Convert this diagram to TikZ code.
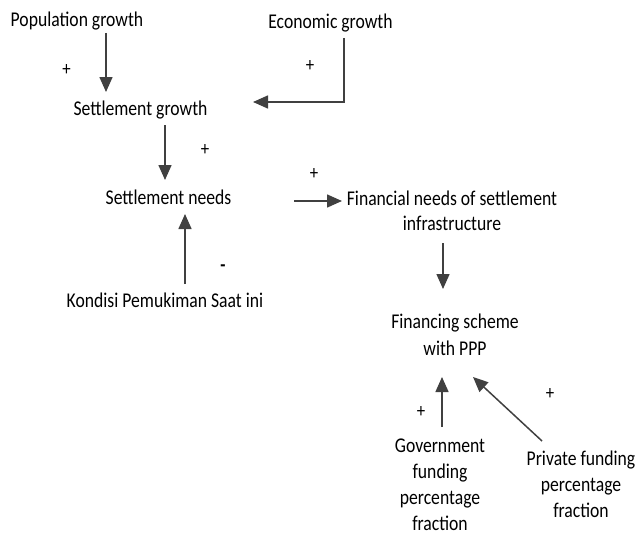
\documentclass[tikz,border=0pt]{standalone}
\usepackage{fontspec}
\setmainfont{Carlito}[FakeStretch=0.84]
\usetikzlibrary{arrows.meta,calc}
\definecolor{arrgray}{RGB}{64,64,64}
\begin{document}
\begin{tikzpicture}[x=1pt,y=-1pt,
  lbl/.style={inner sep=0pt,outer sep=0pt,anchor=base,
    font=\fontsize{21}{26}\selectfont,align=center},
  sgn/.style={inner sep=0pt,outer sep=0pt,font=\fontsize{20}{24}\selectfont},
  arr/.style={draw=arrgray,line width=1.5pt,-{Triangle[length=15pt,width=13pt]}}]
\useasboundingbox (0,0) rectangle (639,535);
% nodes (anchor = baseline of last line)
\node[lbl] (pop) at (77,27) {Population growth};
\node[lbl] (eco) at (330.5,29) {Economic growth};
\node[lbl] (sg) at (140.5,115) {Settlement growth};
\node[lbl] (sn) at (168.5,204) {Settlement needs};
\node[lbl] (kon) at (165,307) {Kondisi Pemukiman Saat ini};
\node[lbl] (fin) at (452,230) {Financial needs of settlement\\[-1pt]infrastructure};
\node[lbl] (fs) at (455,355) {Financing scheme\\[1pt]with PPP};
\node[lbl] (gov) at (440,530) {Government\\funding\\percentage\\fraction};
\node[lbl] (priv) at (581,517) {Private funding\\percentage\\fraction};
% signs
\node[sgn] (s1) at (66.5,70) {+};
\node[sgn] (s2) at (310,66) {+};
\node[sgn] (s3) at (205,150) {+};
\node[sgn] (s4) at (314,174) {+};
\node[sgn,font=\fontsize{20}{24}\selectfont\bfseries] (s5) at (223,268) {-};
\node[sgn] (s6) at (421,412) {+};
\node[sgn] (s7) at (550,394) {+};
% connectors
\draw[arr] ($(pop.base)+(29,6)$) -- ($(sg.base)+(-34.5,-23)$);
\draw[arr] ($(eco.base)+(13.5,9)$) |- ($(sg.base)+(112.5,-13)$);
\draw[arr] ($(sg.base)+(24.5,10)$) -- ($(sn.base)+(-3.5,-24)$);
\draw[arr] ($(sn.base)+(125.5,-3)$) -- ($(fin.base)+(-110,-29)$);
\draw[arr] ($(kon.base)+(20,-23)$) -- ($(sn.base)+(16.5,10)$);
\draw[arr] ($(fin.base)+(-9,13)$) -- ($(fs.base)+(-12,-66)$);
\draw[arr] ($(gov.base)+(2,-103)$) -- ($(fs.base)+(-13,22)$);
\draw[arr] ($(priv.base)+(-39,-76)$) -- ($(fs.base)+(18,22)$);
\end{tikzpicture}
\end{document}
